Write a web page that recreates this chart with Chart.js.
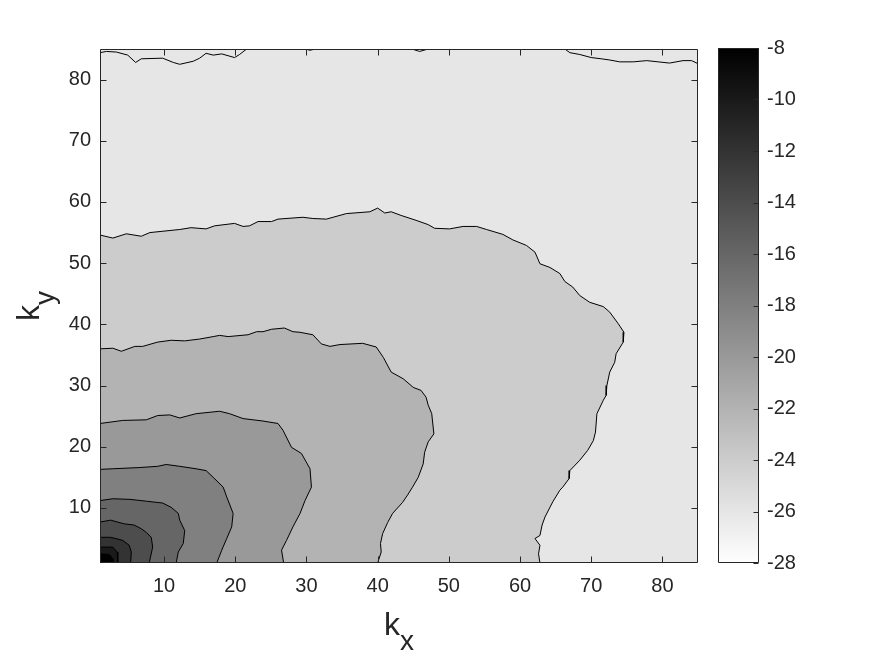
<!DOCTYPE html>
<html>
<head>
<meta charset="utf-8">
<script src="https://cdn.jsdelivr.net/npm/chart.js@4.4.1/dist/chart.umd.min.js"></script>
<style>
  body { margin: 0; background: #fff; }
  #wrap { position: relative; width: 875px; height: 656px; }
  #wrap canvas { position: absolute; top: 0; }
  #map { left: 0; }
  #bar { left: 718px; }
</style>
</head>
<body>
<div id="wrap">
  <canvas id="map" width="875" height="656"></canvas>
  <canvas id="bar" width="157" height="656"></canvas>
</div>
<script>
// axis ranges and ticks
const xMin = 1, xMax = 85, yMin = 1, yMax = 85;
const xTicks = [10, 20, 30, 40, 50, 60, 70, 80];
const yTicks = [10, 20, 30, 40, 50, 60, 70, 80];
const cbMin = -28, cbMax = -8;
const cbTicks = [-28, -26, -24, -22, -20, -18, -16, -14, -12, -10, -8];

// level of the outer region and of each region inside a contour (outermost first)
const bgLevel = -26;
const levels = [-24, -22, -20, -18, -16, -14, -12, -10, -8];

// contour lines as [kx, ky], from the left edge down to the bottom edge
const c24 = [[1,54.6],[2.8,54.1],[4.7,54.8],[6.8,54.4],[8,55],[12.2,55.5],[13.8,55.8],[15.9,55.6],[17.1,56.1],
  [19.9,56.5],[21.1,56],[22,56.1],[23.2,56.8],[25.1,56.8],[26,57.2],[29.5,57.5],[30.9,57.3],[32.8,57.2],
  [35.6,58.1],[38.9,58.4],[40,59],[41,58.2],[41.9,58.4],[43.3,57.8],[45.4,57],[47.1,56.3],[48,55.7],
  [50.1,55.6],[52,56],[53.9,56],[55.3,55.5],[57.6,54.7],[59,53.8],[60.9,52.9],[62.1,51.8],[62.8,49.9],
  [64.2,49.3],[65.6,48.3],[66.3,47],[67.4,46.1],[68.4,44.7],[69.8,43.6],[71.7,42.9],[72.6,42],[73.8,40.1],
  [74.6,38.7],[74.5,37.1],[73.5,35.2],[73.3,33.8],[72.6,32.2],[72.2,30],[72.1,28.4],[71.7,27.6],[70.8,25.4],
  [70.6,22.4],[70.3,21],[69.5,19.4],[68.4,17.8],[67,16.1],[66.9,14.8],[66,13.4],[65.6,12.9],[64.6,11],
  [63.5,8.5],[63.1,7.2],[62.8,5.5],[62.1,5],[62.8,3.9],[62.6,2.5],[62.8,1]];
const c22 = [[1,36],[2.8,36.1],[4,35.6],[5.9,36.4],[7,36.4],[9.1,37.1],[11,37.4],[12.9,37.3],[15,37.6],
  [16.9,38],[17.8,38.2],[19,38],[21.8,38.3],[23,38.8],[23.9,38.8],[25.1,39.2],[26.9,39.4],[28.1,38.8],
  [29.1,38.7],[30.9,38.3],[32.1,36.8],[33.3,36.4],[34.7,36.7],[37.9,36.9],[39.8,36.3],[40.8,34.6],
  [41.9,32.2],[43.6,31.1],[45,29.7],[46.1,29.2],[46.8,28.1],[47.1,26.8],[47.6,25.4],[47.9,22.1],[47.1,20.8],
  [46.6,19.1],[46.4,17.2],[45.7,15],[44.9,13.4],[44.2,12.1],[43.5,10.9],[42.1,9.1],[41.4,7.6],[40.7,5.8],
  [40.4,4.2],[40.5,2.8],[40,1]];
const c20 = [[1,23.8],[4.2,24.3],[7.5,24.4],[9.1,25.1],[10.8,25.2],[12.2,24.7],[14.5,25.4],[17.8,25.8],
  [19.2,25.4],[21.1,24.6],[23.9,24.2],[26,23.8],[26.7,22.7],[27.9,19.9],[29.3,18.9],[30.5,16.4],[30.7,13.4],
  [29.8,11.2],[29.1,9.1],[28.1,6.9],[27.2,4.7],[26.5,3.1],[26.8,1]];
const c18 = [[1,16.3],[2.8,16.4],[6.6,16.6],[9.1,16.8],[10.3,17.1],[12.2,16.8],[14.5,16.4],[15.9,16.1],
  [16.9,15],[18.3,13.4],[18.8,11.8],[19.7,9.1],[19.5,6.9],[18.8,5],[18.1,3.1],[17.4,1]];
const c16 = [[1,11.2],[2.8,11.5],[5.2,11.4],[7.5,11.1],[9.8,10.8],[11,10.1],[12,9.1],[12.2,8],[12.9,6.3],
  [12.7,4.2],[12,2.8],[11.7,1]];
const c14 = [[1,7.7],[2.5,8],[4.4,7.4],[5.8,7.2],[6.8,6.6],[7.5,6],[8.2,5.2],[8.4,3.6],[8.1,2],[7.9,1]];
const c12 = [[1,5.2],[2.5,5.2],[4.2,4.7],[5.1,3.9],[5.4,2.8],[5.3,1]];
const c10 = [[1,3.6],[2.8,3.6],[3.4,2.8],[3.5,1]];
const c8 = [[1,2.5],[2.3,2.4],[2.8,1.7],[2.8,1]];
const contours = [c24, c22, c20, c18, c16, c14, c12, c10, c8];

// short contour pieces along the top edge
const top1 = [[1,84.4],[1.9,84.6],[3.3,84.5],[4.9,84],[6,82.8],[6.8,83.4],[9.8,83.5],[11.3,82.8],[12.2,82.5],
  [14.1,83],[15,83.5],[15.9,84.3],[16.9,84],[18.1,84.2],[19.9,83.6],[20.6,84.1],[21.6,85]];
const top2 = [[29.8,85],[30.5,84.8],[31.3,85]];
const top3 = [[44.8,85],[45.9,84.6],[47.1,85]];
const top4 = [[66.3,85],[67,84.4],[68.4,84.1],[70,83.6],[71.4,83.4],[72.6,83.2],[74,82.9],[75.9,82.9],
  [77.8,83.1],[79.4,82.9],[81,82.7],[82.9,83.1],[84.1,83.1],[85,82.6]];
const topLines = [top1, top2, top3, top4];

const FONT = '"Liberation Sans", Arial, Helvetica, sans-serif';
const INK = '#262626';

// grey of the colour bar for a value: white at cbMin, black at cbMax
function grey(v) {
  const g = Math.round(255 * (cbMax - v) / (cbMax - cbMin));
  return `rgb(${g},${g},${g})`;
}
const pts = arr => arr.map(([x, y]) => ({x, y}));

const datasets = [];
contours.forEach((c, i) => {
  datasets.push({
    data: pts(c.concat([[xMin, yMin]])),
    fill: 'shape',
    backgroundColor: grey(levels[i]),
    borderColor: '#000',
    borderWidth: 1,
    order: contours.length - i + 1
  });
});
topLines.forEach(t => {
  datasets.push({ data: pts(t), fill: false, borderColor: '#000', borderWidth: 1, order: 0 });
});

// box with inward ticks on all four sides, background and axis titles
const mapDecor = {
  id: 'mapDecor',
  beforeDatasetsDraw(chart) {
    const {ctx, chartArea: a} = chart;
    ctx.save();
    ctx.fillStyle = grey(bgLevel);
    ctx.fillRect(a.left, a.top, a.right - a.left, a.bottom - a.top);
    ctx.restore();
  },
  afterDatasetsDraw(chart) {
    const {ctx, chartArea: a, scales} = chart;
    const L = Math.round(a.left) + 0.5, R = Math.round(a.right) - 0.5;
    const T = Math.round(a.top) + 0.5, B = Math.round(a.bottom) - 0.5;
    ctx.save();
    ctx.strokeStyle = INK;
    ctx.lineWidth = 1;
    ctx.beginPath();
    ctx.rect(L, T, R - L, B - T);
    xTicks.forEach(v => {
      const p = Math.round(scales.x.getPixelForValue(v)) + 0.5;
      ctx.moveTo(p, B); ctx.lineTo(p, B - 6);
      ctx.moveTo(p, T); ctx.lineTo(p, T + 6);
    });
    yTicks.forEach(v => {
      const p = Math.round(scales.y.getPixelForValue(v)) + 0.5;
      ctx.moveTo(L, p); ctx.lineTo(L + 6, p);
      ctx.moveTo(R, p); ctx.lineTo(R - 6, p);
    });
    ctx.stroke();
    ctx.restore();
  },
  afterDraw(chart) {
    const {ctx, chartArea: a} = chart;
    const big = `32px ${FONT}`, small = `28px ${FONT}`;
    ctx.save();
    ctx.fillStyle = INK;
    ctx.textBaseline = 'alphabetic';
    ctx.font = big; const wk = ctx.measureText('k').width;
    ctx.font = small; const wx = ctx.measureText('x').width, wy = ctx.measureText('y').width;
    // k_x
    let x0 = (a.left + a.right) / 2 - (wk + wx) / 2;
    ctx.font = big; ctx.fillText('k', x0, 635);
    ctx.font = small; ctx.fillText('x', x0 + wk, 650);
    // k_y
    ctx.translate(39, (a.top + a.bottom) / 2);
    ctx.rotate(-Math.PI / 2);
    x0 = -(wk + wy) / 2;
    ctx.font = big; ctx.fillText('k', x0, 0);
    ctx.font = small; ctx.fillText('y', x0 + wk, 15);
    ctx.restore();
  }
};

const tickFont = { family: FONT, size: 20 };

new Chart(document.getElementById('map'), {
  type: 'line',
  data: { datasets },
  options: {
    responsive: false,
    animation: false,
    layout: { padding: { left: 0, top: 49, right: 177, bottom: 0 } },
    plugins: { legend: { display: false }, tooltip: { enabled: false } },
    elements: { point: { radius: 0 }, line: { tension: 0 } },
    scales: {
      x: {
        type: 'linear', min: xMin, max: xMax,
        grid: { display: false, drawTicks: false }, border: { display: false },
        afterFit: s => { s.height = 93; },
        afterBuildTicks: s => { s.ticks = xTicks.map(v => ({ value: v })); },
        ticks: { font: tickFont, color: INK, padding: 11, maxRotation: 0, autoSkip: false }
      },
      y: {
        type: 'linear', min: yMin, max: yMax,
        grid: { display: false, drawTicks: false }, border: { display: false },
        afterFit: s => { s.width = 100; },
        afterBuildTicks: s => { s.ticks = yTicks.map(v => ({ value: v })); },
        ticks: { font: tickFont, color: INK, padding: 9, autoSkip: false }
      }
    }
  },
  plugins: [mapDecor]
});

// colour bar
const barDecor = {
  id: 'barDecor',
  afterDatasetsDraw(chart) {
    const {ctx, chartArea: a, scales} = chart;
    const L = Math.round(a.left) + 0.5, R = Math.round(a.right) - 0.5;
    const T = Math.round(a.top) + 0.5, B = Math.round(a.bottom) - 0.5;
    ctx.save();
    ctx.strokeStyle = INK;
    ctx.lineWidth = 1;
    ctx.beginPath();
    ctx.rect(L, T, R - L, B - T);
    cbTicks.forEach(v => {
      const p = Math.round(scales.y.getPixelForValue(v)) + 0.5;
      ctx.moveTo(R, p); ctx.lineTo(R - 5, p);
    });
    ctx.stroke();
    ctx.restore();
  }
};

new Chart(document.getElementById('bar'), {
  type: 'bar',
  data: {
    labels: [''],
    datasets: [{
      data: [[cbMin, cbMax]],
      barPercentage: 1,
      categoryPercentage: 1,
      borderWidth: 0,
      backgroundColor: c => {
        const {chart} = c;
        if (!chart.chartArea) return '#888';
        const y = chart.scales.y;
        const g = chart.ctx.createLinearGradient(0, y.getPixelForValue(cbMin), 0, y.getPixelForValue(cbMax));
        g.addColorStop(0, grey(cbMin));
        g.addColorStop(1, grey(cbMax));
        return g;
      }
    }]
  },
  options: {
    responsive: false,
    animation: false,
    layout: { padding: { left: 0, top: 48, right: 0, bottom: 93 } },
    plugins: { legend: { display: false }, tooltip: { enabled: false } },
    scales: {
      x: { display: false },
      y: {
        position: 'right', min: cbMin, max: cbMax,
        grid: { display: false, drawTicks: false }, border: { display: false },
        afterFit: s => { s.width = 116; },
        afterBuildTicks: s => { s.ticks = cbTicks.map(v => ({ value: v })); },
        ticks: { font: tickFont, color: INK, padding: 8, autoSkip: false }
      }
    }
  },
  plugins: [barDecor]
});
</script>
</body>
</html>
